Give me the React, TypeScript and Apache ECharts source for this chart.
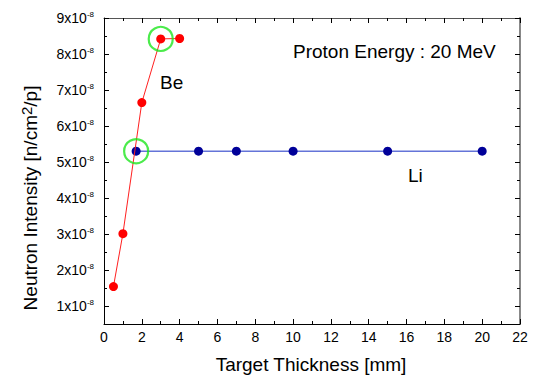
import React, { useEffect, useRef } from "react";
import * as echarts from "echarts";

const beX = [0.5, 1, 2, 3, 4];
const beY = [1.54, 3.01, 6.65, 8.42, 8.43];
const liX = [1.7, 5, 7, 10, 15, 20];
const liY = [5.3, 5.3, 5.3, 5.3, 5.3, 5.3];
const highlightX = [3, 1.7];
const highlightY = [8.42, 5.3];
const xTicks = [0, 22, 2];
const yRange = [0.5, 9];
const labels = {
  xName: "Target Thickness [mm]",
  yNameA: "Neutron Intensity [n/cm",
  yNameSup: "2",
  yNameB: "/p]",
  energy: "Proton Energy : 20 MeV",
  be: "Be",
  li: "Li",
};

const FONT = "'Liberation Sans', Arial, sans-serif";

export default function App() {
  const ref = useRef<HTMLDivElement>(null);
  useEffect(() => {
    if (!ref.current) return;
    const chart = echarts.init(ref.current, undefined, { renderer: "svg" });
    const be = beX.map((x, i) => [x, beY[i]]);
    const li = liX.map((x, i) => [x, liY[i]]);
    const hl = highlightX.map((x, i) => [x, highlightY[i]]);
    const isInt = (v: number) => Math.abs(v - Math.round(v)) < 1e-9;
    const baseY = {
      type: "value",
      min: yRange[0],
      max: yRange[1],
      splitLine: { show: false },
    };
    const baseX = {
      type: "value",
      min: xTicks[0],
      max: xTicks[1],
      interval: xTicks[2],
      splitLine: { show: false },
    };
    chart.setOption({
      animation: false,
      backgroundColor: "#ffffff",
      textStyle: { fontFamily: FONT },
      grid: { left: 104, right: 15, top: 18, bottom: 52, containLabel: false },
      xAxis: [
        {
          ...baseX,
          position: "bottom",
          axisLine: { lineStyle: { color: "#000", width: 1 } },
          axisTick: { inside: true, length: 5, lineStyle: { color: "#000" } },
          minorTick: { show: true, splitNumber: 2, length: 3, lineStyle: { color: "#000" } },
          axisLabel: { fontSize: 14, color: "#000", margin: 6, fontFamily: FONT },
        },
        {
          ...baseX,
          position: "top",
          axisLine: { lineStyle: { color: "#555", width: 1 } },
          axisTick: { inside: true, length: 5, lineStyle: { color: "#000" } },
          minorTick: { show: true, splitNumber: 2, length: 3, lineStyle: { color: "#000" } },
          axisLabel: { show: false },
        },
      ],
      yAxis: [
        {
          ...baseY,
          position: "left",
          splitNumber: 8,
          axisLine: { show: true, lineStyle: { color: "#000", width: 1 } },
          axisTick: { show: true, inside: true, length: 5, lineStyle: { color: "#000" } },
          axisLabel: {
            margin: 10,
            formatter: (v: number) =>
              isInt(v) && v >= 1 ? `{b|${Math.round(v)}x10}{s|-8}` : "",
            rich: {
              b: { fontSize: 14, color: "#000", fontFamily: FONT, lineHeight: 16 },
              s: { fontSize: 8, color: "#000", fontFamily: FONT, verticalAlign: "top", lineHeight: 10 },
            },
          },
        },
        {
          ...baseY,
          position: "left",
          interval: 0.5,
          axisLine: { show: false },
          axisTick: { show: true, inside: true, length: 3, lineStyle: { color: "#000" } },
          axisLabel: { show: false },
        },
        {
          ...baseY,
          position: "right",
          splitNumber: 8,
          axisLine: { show: true, lineStyle: { color: "#888", width: 2 } },
          axisTick: { show: true, inside: true, length: 5, lineStyle: { color: "#000" } },
          axisLabel: { show: false },
        },
        {
          ...baseY,
          position: "right",
          interval: 0.5,
          axisLine: { show: false },
          axisTick: { show: true, inside: true, length: 3, lineStyle: { color: "#000" } },
          axisLabel: { show: false },
        },
      ],
      series: [
        {
          type: "line",
          data: be,
          xAxisIndex: 0,
          yAxisIndex: 0,
          symbol: "circle",
          symbolSize: 9,
          itemStyle: { color: "#ff0000" },
          lineStyle: { color: "#ff2020", width: 1 },
          z: 3,
        },
        {
          type: "line",
          data: li,
          xAxisIndex: 0,
          yAxisIndex: 0,
          symbol: "circle",
          symbolSize: 9,
          itemStyle: { color: "#000099" },
          lineStyle: { color: "#6474d8", width: 1.5 },
          z: 2,
        },
        {
          type: "scatter",
          data: hl,
          xAxisIndex: 0,
          yAxisIndex: 0,
          symbol: "circle",
          symbolSize: 24,
          itemStyle: { color: "rgba(0,0,0,0)", borderColor: "#1ee61e", borderWidth: 2.2 },
          z: 4,
        },
      ],
      graphic: [
        {
          type: "text",
          x: 311,
          y: 364,
          style: {
            text: labels.xName,
            font: `19px ${FONT}`,
            fill: "#000",
            align: "center",
            verticalAlign: "middle",
          },
        },
        {
          type: "text",
          x: 30,
          y: 198,
          rotation: Math.PI / 2,
          style: {
            text: `{a|${labels.yNameA}}{s|${labels.yNameSup}}{a|${labels.yNameB}}`,
            align: "center",
            verticalAlign: "middle",
            rich: {
              a: { fontSize: 19, fontFamily: FONT, fill: "#000", lineHeight: 22 },
              s: { fontSize: 15, fontFamily: FONT, fill: "#000", verticalAlign: "top", lineHeight: 14 },
            },
          },
        },
        {
          type: "text",
          x: 293,
          y: 51,
          style: { text: labels.energy, font: `19px ${FONT}`, fill: "#000", align: "left", verticalAlign: "middle" },
        },
        {
          type: "text",
          x: 160,
          y: 82,
          style: { text: labels.be, font: `19px ${FONT}`, fill: "#000", align: "left", verticalAlign: "middle" },
        },
        {
          type: "text",
          x: 408,
          y: 175,
          style: { text: labels.li, font: `19px ${FONT}`, fill: "#000", align: "left", verticalAlign: "middle" },
        },
      ],
    });
    return () => chart.dispose();
  }, []);
  return (
    <div
      ref={ref}
      style={{ position: "fixed", left: 0, top: 0, width: 535, height: 376, background: "#fff" }}
    />
  );
}
